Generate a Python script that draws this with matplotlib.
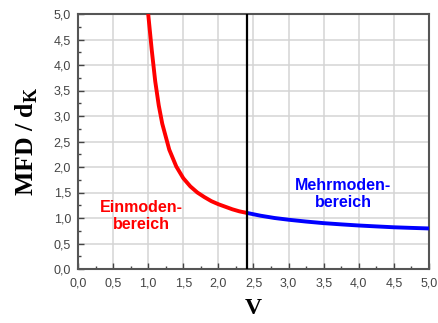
import matplotlib.pyplot as plt
from matplotlib.ticker import MultipleLocator, FuncFormatter

plt.rcParams['mathtext.fontset'] = 'custom'
plt.rcParams['mathtext.rm'] = 'Liberation Serif:bold'
plt.rcParams['mathtext.bf'] = 'Liberation Serif:bold'

# values
v_single = [1.00, 1.05, 1.10, 1.15, 1.20, 1.30, 1.40, 1.50, 1.60, 1.70,
            1.80, 1.90, 2.00, 2.10, 2.20, 2.30, 2.405]
mfd_single = [5.00, 4.30, 3.68, 3.21, 2.85, 2.34, 2.01, 1.78, 1.62, 1.50,
              1.41, 1.33, 1.27, 1.22, 1.17, 1.13, 1.10]

v_multi = [2.405, 2.6, 2.8, 3.0, 3.25, 3.5, 3.75, 4.0, 4.25, 4.5, 4.75, 5.0]
mfd_multi = [1.10, 1.045, 1.00, 0.966, 0.93, 0.899, 0.875, 0.853, 0.835,
             0.818, 0.806, 0.795]

v_cutoff = 2.405
ticks = [0.0, 0.5, 1.0, 1.5, 2.0, 2.5, 3.0, 3.5, 4.0, 4.5, 5.0]

fig = plt.figure(figsize=(4.39, 3.23), dpi=100)
ax = fig.add_axes([78 / 439, 1 - 269 / 323, 351 / 439, 255 / 323])

ax.plot(v_single, mfd_single, color='#ff0000', lw=2.8, solid_capstyle='butt', zorder=3)
ax.plot(v_multi, mfd_multi, color='#0000ff', lw=2.8, solid_capstyle='butt', zorder=3)
ax.axvline(v_cutoff, color='black', lw=1.6, zorder=4)

ax.set_xlim(0, 5)
ax.set_ylim(0, 5)
ax.set_xticks(ticks)
ax.set_yticks(ticks)
ax.xaxis.set_minor_locator(MultipleLocator(0.25))
ax.yaxis.set_minor_locator(MultipleLocator(0.25))
fmt = FuncFormatter(lambda x, pos: f'{x:.1f}'.replace('.', ','))
ax.xaxis.set_major_formatter(fmt)
ax.yaxis.set_major_formatter(fmt)
for lab in ax.get_xticklabels() + ax.get_yticklabels():
    lab.set_family('Liberation Sans')

ax.grid(True, which='major', color='#d4d4d4', lw=1.1)
ax.set_axisbelow(True)
ax.tick_params(which='both', direction='in', color='#444444', labelcolor='#444444',
               labelsize=9)
ax.tick_params(which='major', length=4, width=1)
ax.tick_params(which='minor', length=2.5, width=1)
ax.tick_params(axis='x', pad=6)
ax.tick_params(axis='y', pad=5)
for s in ax.spines.values():
    s.set_color('#555555')
    s.set_linewidth(1.5)

ax.text(0.9, 1.04, 'Einmoden-\nbereich', color='#ff0000', fontsize=11.5,
        fontweight='bold', family='Liberation Sans', ha='center', va='center',
        linespacing=1.1)
ax.text(3.78, 1.47, 'Mehrmoden-\nbereich', color='#0000ff', fontsize=11.5,
        fontweight='bold', family='Liberation Sans', ha='center', va='center',
        linespacing=1.1)

ax.set_xlabel('V', family='Liberation Serif', fontweight='bold', fontsize=17, labelpad=6)
ax.set_ylabel(r'MFD / d$_\mathrm{K}$', family='Liberation Serif', fontweight='bold',
              fontsize=18.5, labelpad=10)

fig.savefig('out.png', dpi=100)
